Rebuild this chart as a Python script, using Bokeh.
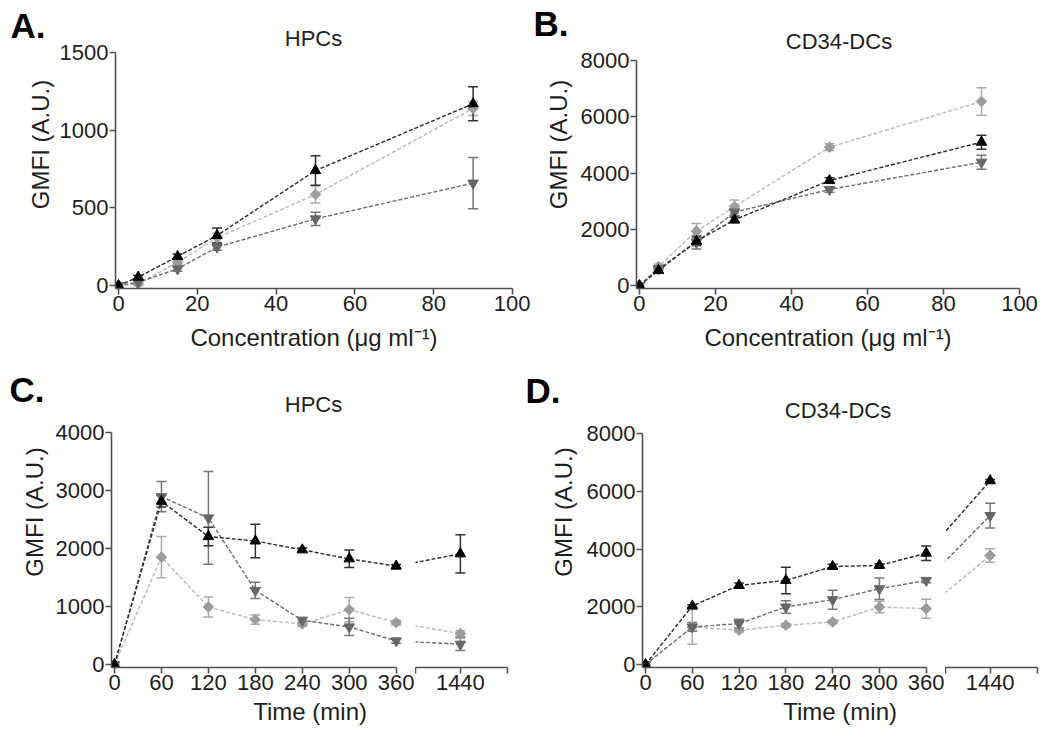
import math
from bokeh.plotting import figure
from bokeh.layouts import row, column
from bokeh.models import (ColumnDataSource, Whisker, TeeHead, FixedTicker, Range1d,
                          LinearAxis, Title)
from bokeh.core.properties import value
from bokeh.embed import file_html
from bokeh.resources import INLINE

FONT = "Liberation Sans"

# ---------------- data ----------------
conc = [0, 5, 15, 25, 50, 90]                      # µg/ml
time_min = [0, 60, 120, 180, 240, 300, 360, 1440]  # min

a_yticks = [0, 500, 1000, 1500]
b_yticks = [0, 2000, 4000, 6000, 8000]
c_yticks = [0, 1000, 2000, 3000, 4000]
d_yticks = [0, 2000, 4000, 6000, 8000]
conc_ticks = [0, 20, 40, 60, 80, 100]
time_ticks = [0, 60, 120, 180, 240, 300, 360]

# Panel A (HPCs, concentration)
a_up = [0, 54, 187, 322, 740, 1170]
a_up_err = [0, 10, 15, 48, 95, 110]
a_dia = [0, 10, 150, 307, 586, 1140]
a_dia_err = [0, 8, 15, 30, 55, 45]
a_down = [0, 21, 107, 247, 429, 659]
a_down_err = [0, 8, 15, 20, 43, 165]

# Panel B (CD34-DCs, concentration)
b_up = [0, 533, 1576, 2334, 3733, 5096]
b_up_err = [0, 60, 150, 100, 100, 250]
b_dia = [0, 675, 1932, 2808, 4918, 6541]
b_dia_err = [0, 80, 270, 230, 120, 490]
b_down = [0, 592, 1540, 2607, 3413, 4384]
b_down_err = [0, 60, 240, 120, 100, 250]

# Panel C (HPCs, time)
c_up = [0, 2814, 2206, 2130, 1977, 1822, 1696, 1908]
c_up_err = [0, 100, 160, 290, 30, 150, 30, 330]
c_dia = [0, 1851, 991, 774, 700, 946, 722, 533]
c_dia_err = [0, 355, 172, 80, 40, 210, 40, 50]
c_down = [0, 2894, 2527, 1278, 762, 648, 407, 350]
c_down_err = [0, 260, 800, 140, 50, 150, 40, 110]

# Panel D (CD34-DCs, time)
d_up = [0, 2026, 2740, 2912, 3395, 3430, 3856, 6365]
d_up_err = [0, 40, 80, 460, 80, 60, 250, 40]
d_dia = [0, 1301, 1186, 1358, 1473, 1991, 1934, 3775]
d_dia_err = [0, 600, 60, 60, 60, 200, 330, 230]
d_down = [0, 1301, 1416, 1991, 2244, 2624, 2912, 5156]
d_down_err = [0, 150, 150, 220, 330, 370, 80, 430]

# display position of the 24 h point after the axis break
BREAK_POS = {1440: 442.0}


def tpos(t):
    return BREAK_POS.get(t, float(t))


# ---------------- styles ----------------
STYLES = {
    "dia": dict(marker="square", angle=math.pi / 4, size=7.5, fill="#9c9c9c", line="#bababa", err="#ababab"),
    "down": dict(marker="inverted_triangle", angle=0.0, size=10.5, fill="#676767", line="#6c6c6c", err="#777777"),
    "up": dict(marker="triangle", angle=0.0, size=10.5, fill="#000000", line="#2a2a2a", err="#333333"),
}
AX_COLOR = "#505050"
TXT_COLOR = "#1e1e1e"


def lin(v0, p0, v1, p1):
    """pixel -> data value for a linear axis with v0 at pixel p0 and v1 at pixel p1"""
    k = (p1 - p0) / (v1 - v0)
    return lambda px: v0 + (px - p0) / k


def make_fig(canvas, frame, fx, fy, y_axis=True, ylab_standoff=5):
    cl, ct, cr, cb = canvas
    fl, ft, fr, fb = frame
    p = figure(width=cr - cl, height=cb - ct,
               x_range=Range1d(fx(fl), fx(fr)), y_range=Range1d(fy(fb), fy(ft)),
               output_backend="svg", toolbar_location=None, title=None,
               y_axis_location="left" if y_axis else None,
               min_border_left=fl - cl, min_border_right=cr - fr,
               min_border_top=ft - ct, min_border_bottom=cb - fb)
    p.xgrid.visible = False
    p.ygrid.visible = False
    p.outline_line_color = None
    p.background_fill_color = "white"
    p.border_fill_color = "white"
    for ax in p.axis:
        ax.axis_line_color = AX_COLOR
        ax.axis_line_width = 1.6
        ax.major_tick_line_color = AX_COLOR
        ax.major_tick_line_width = 1.6
        ax.major_tick_out = 6
        ax.major_tick_in = 0
        ax.minor_tick_line_color = AX_COLOR
        ax.minor_tick_line_width = 1.6
        ax.minor_tick_out = 6
        ax.minor_tick_in = 0
        ax.major_label_text_font = FONT
        ax.major_label_text_font_size = "22px"
        ax.major_label_text_color = TXT_COLOR
        ax.major_label_standoff = 1
        ax.axis_label_text_font = FONT
        ax.axis_label_text_font_size = "24px"
        ax.axis_label_text_font_style = "normal"
        ax.axis_label_text_color = TXT_COLOR
        ax.axis_label_standoff = 10
    if y_axis:
        p.yaxis.axis_label_standoff = ylab_standoff
    return p


def panel_title(p, x, y, txt):
    p.text(x=[x], y=[y], text=[txt], text_font=value(FONT), text_font_size=value("22px"),
           text_color=TXT_COLOR, text_align="center", text_baseline="middle")


def panel_letter(p, y, txt, standoff):
    """bold panel letter, drawn as the single label of an outer, otherwise invisible left axis"""
    ax = LinearAxis(ticker=FixedTicker(ticks=[y]), major_label_overrides={y: txt},
                    axis_line_color=None, major_tick_line_color=None, minor_tick_line_color=None,
                    major_tick_out=0, major_tick_in=0, major_label_standoff=standoff,
                    major_label_text_font=FONT, major_label_text_font_size="35px",
                    major_label_text_font_style="bold", major_label_text_color="#000000")
    p.add_layout(ax, "left")


def draw(p, xs, ys, es, key, line_idx, mark_idx):
    st = STYLES[key]
    if line_idx:
        ls = ColumnDataSource(dict(x=[xs[i] for i in line_idx], y=[ys[i] for i in line_idx]))
        p.line("x", "y", source=ls, line_color=st["line"], line_width=1.4, line_dash="4 2")
    wi = [i for i in mark_idx if es[i] > 0]
    if wi:
        ws = ColumnDataSource(dict(x=[xs[i] for i in wi],
                                   lo=[ys[i] - es[i] for i in wi],
                                   hi=[ys[i] + es[i] for i in wi]))
        p.add_layout(Whisker(source=ws, base="x", upper="hi", lower="lo",
                             line_color=st["err"], line_width=1.5,
                             upper_head=TeeHead(size=10, line_color=st["err"], line_width=1.5),
                             lower_head=TeeHead(size=10, line_color=st["err"], line_width=1.5)))
    ms = ColumnDataSource(dict(x=[xs[i] for i in mark_idx], y=[ys[i] for i in mark_idx]))
    p.scatter("x", "y", source=ms, marker=st["marker"], size=st["size"], angle=st["angle"],
              fill_color=st["fill"], line_color=st["fill"], line_width=1)


all_c = list(range(len(conc)))

# ---------------- panel A ----------------
fxa, fya = lin(0, 118, 100, 512), lin(0, 285, 1500, 52)
pa = make_fig((0, 0, 530, 356), (115, 0, 512, 288), fxa, fya, ylab_standoff=3)
pa.xaxis.ticker = FixedTicker(ticks=conc_ticks)
pa.yaxis.ticker = FixedTicker(ticks=a_yticks)
pa.yaxis.bounds = (fya(288), a_yticks[-1])
pa.xaxis.axis_label = "Concentration (\u03bcg ml\u207b\u00b9)"
pa.yaxis.axis_label = "GMFI (A.U.)"
for key, ys, es in [("dia", a_dia, a_dia_err), ("down", a_down, a_down_err), ("up", a_up, a_up_err)]:
    draw(pa, conc, ys, es, key, all_c, all_c)
panel_title(pa, fxa(313), fya(38), "HPCs")
panel_letter(pa, round(fya(25)), "A.", -22)

# ---------------- panel B ----------------
fxb, fyb = lin(0, 638, 100, 1019), lin(0, 285, 8000, 60)
pb = make_fig((530, 0, 1040, 356), (635, 0, 1019, 288), fxb, fyb, ylab_standoff=6)
pb.xaxis.ticker = FixedTicker(ticks=conc_ticks)
pb.yaxis.ticker = FixedTicker(ticks=b_yticks)
pb.yaxis.bounds = (fyb(288), b_yticks[-1])
pb.xaxis.axis_label = "Concentration (\u03bcg ml\u207b\u00b9)"
pb.yaxis.axis_label = "GMFI (A.U.)"
for key, ys, es in [("dia", b_dia, b_dia_err), ("down", b_down, b_down_err), ("up", b_up, b_up_err)]:
    draw(pb, conc, ys, es, key, all_c, all_c)
panel_title(pb, fxb(838), fyb(41), "CD34-DCs")
panel_letter(pb, round(fyb(22.5)), "B.", -27)

# ---------------- time panels (broken x axis) ----------------
tx = [tpos(t) for t in time_min]
first = [i for i, t in enumerate(time_min) if t <= 360]
last = len(time_min) - 1


def time_block(x0, split, x1, frame1, frame2, fx, fy, ylab_standoff, yticks, series,
               title, title_px, letter, letter_py, letter_standoff, xlab_left):
    p1 = make_fig((x0, 356, split, 732), frame1, fx, fy, ylab_standoff=ylab_standoff)
    p1.xaxis.bounds = (fx(frame1[0]), time_ticks[-1])
    p1.xaxis.ticker = FixedTicker(ticks=time_ticks)
    p1.yaxis.ticker = FixedTicker(ticks=yticks)
    p1.yaxis.bounds = (fy(frame1[3]), yticks[-1])
    p1.yaxis.axis_label = "GMFI (A.U.)"
    p2 = make_fig((split, 356, x1, 732), frame2, fx, fy, y_axis=False)
    p2.xaxis.ticker = FixedTicker(ticks=[tpos(1440)],
                                  minor_ticks=[fx(frame2[0]) + 0.3, fx(frame2[2]) - 0.3])
    p2.xaxis.major_label_overrides = {tpos(1440): "1440"}
    for key, ys, es in series:
        draw(p1, tx, ys, es, key, first, first)
        draw(p2, tx, ys, es, key, [last - 1, last], [last])
    panel_title(p1, fx(title_px[0]), fy(title_px[1]), title)
    panel_letter(p1, round(fy(letter_py)), letter, letter_standoff)
    p1.add_layout(Title(text="Time (min)", align="left", offset=xlab_left - frame1[0],
                        vertical_align="top", standoff=10, text_font=FONT,
                        text_font_size="24px", text_font_style="normal",
                        text_color=TXT_COLOR), "below")
    return row(p1, p2)


fxc, fyc = lin(0, 114, 360, 395.7), lin(0, 664, 4000, 432)
blk_c = time_block(0, 415, 520, (111, 356, 401, 667), (415, 356, 507, 667), fxc, fyc, 5, c_yticks,
                   [("dia", c_dia, c_dia_err), ("down", c_down, c_down_err), ("up", c_up, c_up_err)],
                   "HPCs", (313, 404), "C.", 389, -27, 252.7)

fxd, fyd = lin(0, 645, 360, 925.7), lin(0, 664, 8000, 433)
blk_d = time_block(520, 945, 1040, (642, 356, 932, 667), (945, 356, 1037, 667), fxd, fyd, 7, d_yticks,
                   [("dia", d_dia, d_dia_err), ("down", d_down, d_down_err), ("up", d_up, d_up_err)],
                   "CD34-DCs", (837.5, 410), "D.", 390.5, -14, 782.7)

layout = column(row(pa, pb), row(blk_c, blk_d))
open("out.html", "w").write(file_html(layout, INLINE))
